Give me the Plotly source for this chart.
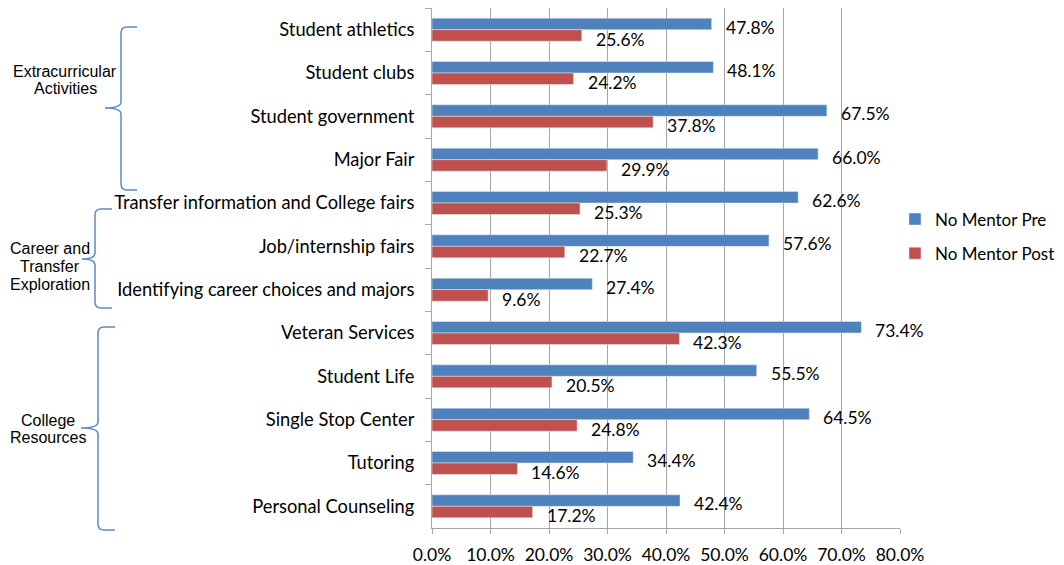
import plotly.graph_objects as go

categories = [
    "Student athletics", "Student clubs", "Student government", "Major Fair",
    "Transfer information and College fairs", "Job/internship fairs",
    "Identifying career choices and majors", "Veteran Services", "Student Life",
    "Single Stop Center", "Tutoring", "Personal Counseling",
]
pre_values = [47.8, 48.1, 67.5, 66.0, 62.6, 57.6, 27.4, 73.4, 55.5, 64.5, 34.4, 42.4]
post_values = [25.6, 24.2, 37.8, 29.9, 25.3, 22.7, 9.6, 42.3, 20.5, 24.8, 14.6, 17.2]
series_names = ["No Mentor Pre", "No Mentor Post"]
x_ticks = [0, 10, 20, 30, 40, 50, 60, 70, 80]
group_lines = [
    ["Extracurricular", "Activities"],
    ["Career and", "Transfer", "Exploration"],
    ["College", "Resources"],
]

# page offset (default body margin of the html page)
OFF = 8
W, H = 1064 - OFF, 565 - OFF
ML, MR, MT, MB = 424, 164, 0, 37
PW, PH = W - ML - MR, H - MT - MB

def px(x_page):
    return (x_page - OFF - ML) / PW

def py(y_page):
    return (H - MB - (y_page - OFF)) / PH

BLUE = "#4F81BD"
RED = "#C0504D"
LABEL_FONT = "Lato, 'Open Sans', sans-serif"
FS_CAT = 18.3
FS_NUM = 17.5
FS_LEG = 17

fig = go.Figure()
fig.add_trace(go.Bar(y=categories, x=pre_values, name=series_names[0], orientation="h",
                     marker=dict(color=BLUE), legendgroup="a"))
fig.add_trace(go.Bar(y=categories, x=post_values, name=series_names[1], orientation="h",
                     marker=dict(color=RED), legendgroup="b"))

annotations = []
for c, v in zip(categories, pre_values):
    annotations.append(dict(x=v, y=c, xref="x", yref="y", text=f"{v:.1f}%", showarrow=False,
                            xanchor="left", yanchor="middle", xshift=12, yshift=2.5,
                            font=dict(family=LABEL_FONT, size=FS_NUM, color="#000")))
for c, v in zip(categories, post_values):
    annotations.append(dict(x=v, y=c, xref="x", yref="y", text=f"{v:.1f}%", showarrow=False,
                            xanchor="left", yanchor="middle", xshift=12, yshift=-9.5,
                            font=dict(family=LABEL_FONT, size=FS_NUM, color="#000")))

# group braces (page pixel coords): x_end, x_v, x_tip, y_top, y_mid, y_bot
brace_specs = [
    (137, 121, 105, 27, 108, 190),
    (112, 95, 82, 209, 259, 308),
    (115, 98, 81, 327, 428, 530),
]
# group text line positions (page pixel coords): center x, list of line centers y
text_specs = [
    (65, [71, 88]),
    (49.5, [248, 266, 284]),
    (48, [420, 437]),
]
shapes = []
for (xe, xv, xt, yt, ym, yb) in brace_specs:
    r = 6
    path = (
        f"M{px(xe)},{py(yt)} L{px(xv + r)},{py(yt)} Q{px(xv)},{py(yt)} {px(xv)},{py(yt + r)} "
        f"L{px(xv)},{py(ym - r)} Q{px(xv)},{py(ym)} {px(xt)},{py(ym)} "
        f"Q{px(xv)},{py(ym)} {px(xv)},{py(ym + r)} "
        f"L{px(xv)},{py(yb - r)} Q{px(xv)},{py(yb)} {px(xv + r)},{py(yb)} L{px(xe)},{py(yb)}"
    )
    shapes.append(dict(type="path", xref="paper", yref="paper", path=path,
                       line=dict(color="#5B8BC7", width=1.5)))
for lines, (tx, tys) in zip(group_lines, text_specs):
    for line, ty in zip(lines, tys):
        annotations.append(dict(x=px(tx), y=py(ty), xref="paper", yref="paper", text=line,
                                showarrow=False, xanchor="center", yanchor="middle",
                                font=dict(family="Liberation Sans, Arial, sans-serif", size=16,
                                          color="#000")))

fig.update_layout(
    width=W, height=H,
    margin=dict(l=ML, r=MR, t=MT, b=MB, pad=0, autoexpand=False),
    paper_bgcolor="white", plot_bgcolor="white",
    barmode="group", bargap=0.47, bargroupgap=0,
    font=dict(family=LABEL_FONT, size=FS_CAT, color="#000"),
    legend=dict(x=px(895), y=py(201.5), xanchor="left", yanchor="top",
                font=dict(family=LABEL_FONT, size=FS_LEG, color="#000"),
                tracegroupgap=9, bgcolor="rgba(0,0,0,0)"),
    annotations=annotations,
    shapes=shapes,
)
fig.update_xaxes(range=[0, 80], tickvals=x_ticks, ticktext=[f"{t:.1f}%" for t in x_ticks],
                 showgrid=True, gridcolor="#A6A6A6", gridwidth=1,
                 showline=True, linecolor="#A6A6A6", linewidth=1,
                 ticks="outside", ticklen=5, tickcolor="#A6A6A6",
                 tickfont=dict(family=LABEL_FONT, size=FS_NUM, color="#000"),
                 zeroline=False, ticklabelstandoff=6, automargin=False)
fig.update_yaxes(categoryorder="array", categoryarray=categories,
                 range=[len(categories) - 0.5, -0.5],
                 showline=True, linecolor="#A6A6A6", linewidth=1,
                 ticks="outside", ticklen=6, tickcolor="#A6A6A6", tickson="boundaries",
                 tickfont=dict(family=LABEL_FONT, size=FS_CAT, color="#000"),
                 showgrid=False, ticklabelstandoff=13, automargin=False)

fig.write_html("out.html")
